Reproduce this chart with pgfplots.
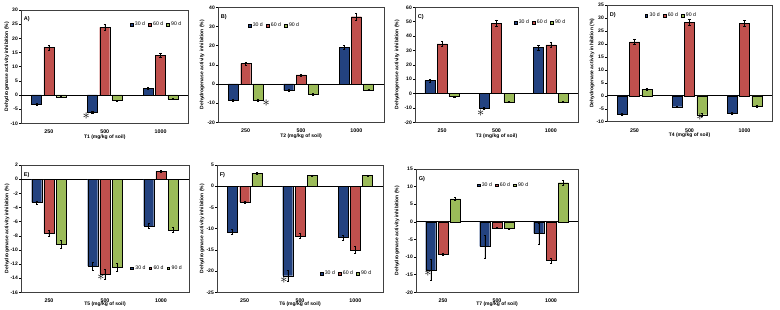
\documentclass[border=0pt]{standalone}
\usepackage{fontspec}
\setmainfont{Liberation Sans}
\usepackage{pgfplots}
\usepackage{pgfplotstable}
\pgfplotsset{compat=1.18}
\definecolor{cb}{RGB}{35,66,128}
\definecolor{cr}{RGB}{192,80,77}
\definecolor{cg}{RGB}{155,187,89}

\pgfplotstableread{
x b be r re g ge
0 -3.3 0.3 16.8 0.9 -0.6 0.2
1 -6.1 0.4 23.9 1.2 -2.0 0.2
2 2.4 0.3 14.0 0.7 -1.4 0.2
}\tA
\pgfplotstableread{
x b be r re g ge
0 -8.3 0.6 10.6 0.6 -8.3 0.6
1 -3.3 0.4 4.7 0.4 -5.4 0.4
2 19.0 1.0 35.1 1.6 -3.1 0.4
}\tB
\pgfplotstableread{
x b be r re g ge
0 9.0 0.8 34.6 1.6 -1.9 0.3
1 -10.2 0.8 49.0 2.2 -5.8 0.4
2 32.0 1.5 33.9 1.6 -5.8 0.4
}\tC
\pgfplotstableread{
x b be r re g ge
0 -7.2 0.4 20.8 1.1 2.6 0.3
1 -4.2 0.3 28.4 1.2 -7.3 0.4
2 -6.7 0.4 27.9 1.2 -4.0 0.3
}\tD
\pgfplotstableread{
x b be r re g ge
0 -3.3 0.2 -7.6 0.4 -9.2 0.5
1 -12.3 0.6 -13.4 0.7 -12.45 0.6
2 -6.6 0.3 1.1 0.1 -7.2 0.35
}\tE
\pgfplotstableread{
x b be r re g ge
0 -10.8 0.6 -3.7 0.2 3.1 0.2
1 -21.1 1.2 -11.7 0.6 2.5 0.2
2 -12.1 0.6 -15.0 0.8 2.5 0.2
}\tF
\pgfplotstableread{
x b be r re g ge
0 -13.6 3.1 -9.2 0.4 6.5 0.4
1 -7.0 3.2 -1.7 0.2 -1.9 0.2
2 -3.3 3.0 -11.0 0.6 11.1 0.6
}\tG

\newcommand{\tf}{\fontsize{5}{6}\selectfont\bfseries}
\tikzset{astk/.style={font=\fontsize{14}{14}\selectfont, inner sep=0pt}}
\pgfplotsset{
 panel/.style={
  scale only axis, ybar=2.3pt, bar width=10pt,
  xmin=-0.5, xmax=2.5, xtick={0,1,2}, xticklabels={250,500,1000},
  x tick style={draw=none},
  ytick pos=left, tick align=outside, major tick length=2pt,
  y tick style={black, line width=0.4pt},
  axis line style={black!75, line width=0.5pt},
  tick label style={font=\tf},
  xticklabel style={font=\fontsize{5.3}{6}\selectfont\bfseries},
  /pgf/number format/assume math mode=true,
  xticklabel style={anchor=north, inner sep=0pt, yshift=-4.5pt},
  yticklabel style={inner sep=1pt},
  ylabel={Dehydrogenase activity inhibition (\%)},
  xlabel style={font=\tf, at={(axis description cs:0.5,0)}, anchor=center, inner sep=0pt, yshift=-13.7pt},
  extra y ticks={0}, extra y tick labels={},
  extra y tick style={grid=major, major grid style={black, line width=0.7pt}, tick style={draw=none}},
  legend style={draw=none, fill=none, font=\fontsize{5.2}{6}\selectfont, legend columns=3,
    inner sep=0pt, anchor=center,
    /tikz/every even column/.append style={column sep=1pt}},
  legend cell align=left,
  error bars/y dir=both, error bars/y explicit,
  error bars/error mark options={rotate=90, mark size=1.1pt, black, line width=0.4pt},
  error bars/error bar style={black, line width=0.4pt},
 },
 yl/.style={ylabel style={font=\tf, at={(axis description cs:#1,0.5)}, anchor=center, inner sep=0pt}},
 bb/.style={fill=cb, draw=black, line width=0.3pt,
   legend image code/.code={\draw[fill=cb,draw=black,line width=0.2pt] (0pt,-1.4pt) rectangle (2.8pt,1.4pt);}},
 rr/.style={fill=cr, draw=black, line width=0.3pt,
   legend image code/.code={\draw[fill=cr,draw=black,line width=0.2pt] (0pt,-1.4pt) rectangle (2.8pt,1.4pt);}},
 gg/.style={fill=cg, draw=black, line width=0.3pt,
   legend image code/.code={\draw[fill=cg,draw=black,line width=0.2pt] (0pt,-1.4pt) rectangle (2.8pt,1.4pt);}},
}
\newcommand{\bars}[1]{%
  \addplot[bb] table[x=x,y=b,y error=be]{#1};
  \addplot[rr] table[x=x,y=r,y error=re]{#1};
  \addplot[gg] table[x=x,y=g,y error=ge]{#1};
  \legend{30 d,60 d,90 d}}
\newcommand{\plab}[1]{\node[anchor=north west, font=\fontsize{5.5}{6}\selectfont\bfseries, inner sep=1pt] at (rel axis cs:0.01,0.95) {#1};}

\begin{document}
\begin{tikzpicture}
\useasboundingbox (0,0) rectangle (780pt,310pt);
% A
\begin{axis}[panel, at={(21pt,186.7pt)}, anchor=south west, width=167.5pt, height=113.3pt,
  ymin=-10, ymax=30, ytick distance=5, xlabel={T1 (mg/kg of soil)}, yl=-0.084,
  legend style={at={(axis description cs:0.81,0.87)}}]
\bars{\tA}
\plab{A)}
\node[astk] at (axis cs:0.67,-7.5) {$\ast$};
\end{axis}
% B
\begin{axis}[panel, at={(218pt,187.7pt)}, anchor=south west, width=166pt, height=115pt,
  ymin=-20, ymax=40, ytick distance=10, xlabel={T2 (mg/kg of soil)}, yl=-0.096,
  legend style={at={(axis description cs:0.34,0.84)}}]
\bars{\tB}
\plab{B)}
\node[astk] at (axis cs:0.37,-10) {$\ast$};
\end{axis}
% C
\begin{axis}[panel, at={(415pt,187.7pt)}, anchor=south west, width=163pt, height=115pt,
  ymin=-20, ymax=60, ytick distance=10, xlabel={T3 (mg/kg of soil)}, yl=-0.11,
  legend style={at={(axis description cs:0.77,0.87)}}]
\bars{\tC}
\plab{C)}
\node[astk] at (axis cs:0.71,-13.7) {$\ast$};
\end{axis}
% D
\begin{axis}[panel, at={(607pt,188.3pt)}, anchor=south west, width=165pt, height=116.7pt,
  ymin=-10, ymax=35, ytick distance=5, xlabel={T4 (mg/kg of soil)}, yl=-0.091,
  legend style={at={(axis description cs:0.39,0.91)}}]
\bars{\tD}
\plab{D)}
\node[astk] at (axis cs:1.19,-8.1) {$\ast$};
\end{axis}
% E
\begin{axis}[panel, at={(21pt,17.7pt)}, anchor=south west, width=168pt, height=127.3pt,
  ymin=-16, ymax=2, ytick distance=2, xlabel={T5 (mg/kg of soil)}, yl=-0.083,
  xticklabel style={yshift=0.5pt},
  xlabel style={yshift=1.5pt},
  legend style={at={(axis description cs:0.81,0.19)}}]
\bars{\tE}
\plab{E)}
\node[astk] at (axis cs:0.93,-13.9) {$\ast$};
\end{axis}
% F
\begin{axis}[panel, at={(217pt,17.7pt)}, anchor=south west, width=166pt, height=127.3pt,
  ymin=-25, ymax=5, ytick distance=5, xlabel={T6 (mg/kg of soil)}, yl=-0.09,
  xticklabel style={yshift=0.5pt},
  xlabel style={yshift=1.5pt},
  legend style={at={(axis description cs:0.78,0.15)}}]
\bars{\tF}
\plab{F)}
\node[astk] at (axis cs:0.71,-22.2) {$\ast$};
\end{axis}
% G
\begin{axis}[panel, at={(416pt,17.7pt)}, anchor=south west, width=162pt, height=123.3pt,
  ymin=-20, ymax=15, ytick distance=5, xlabel={T7 (mg/kg of soil)}, yl=-0.117,
  xticklabel style={yshift=0.5pt},
  xlabel style={yshift=1.5pt},
  legend style={at={(axis description cs:0.54,0.87)}}]
\bars{\tG}
\plab{G)}
\node[astk] at (axis cs:-0.28,-14.6) {$\ast$};
\end{axis}
\end{tikzpicture}
\end{document}
